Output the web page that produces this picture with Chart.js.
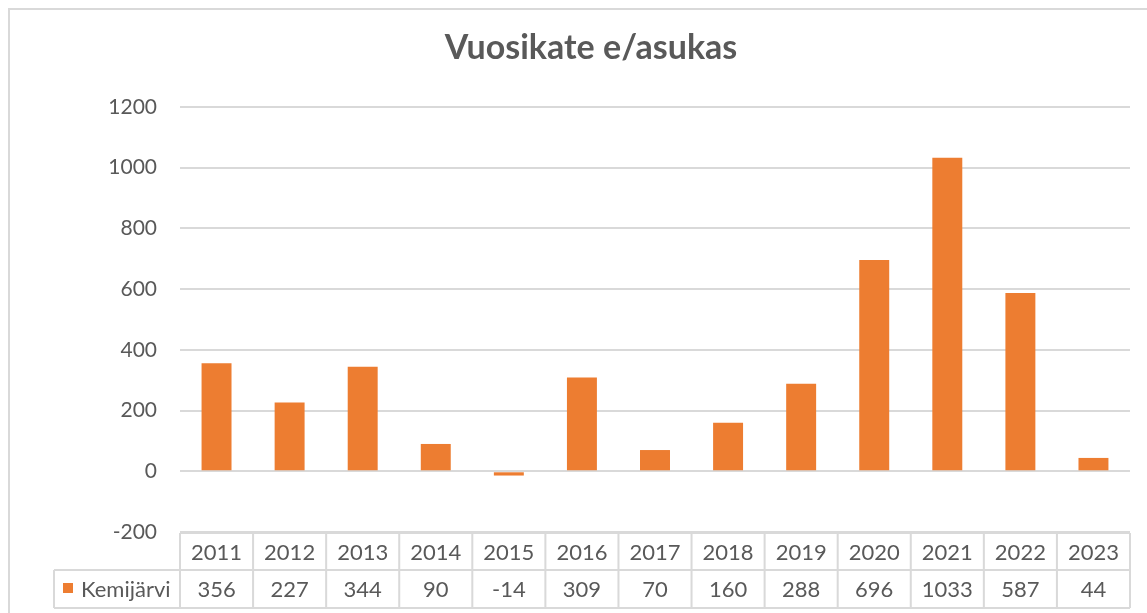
<!DOCTYPE html>
<html>
<head>
<meta charset="utf-8">
<script src="https://cdn.jsdelivr.net/npm/chart.js@4.4.1/dist/chart.umd.min.js"></script>
<style>
  html, body { margin: 0; padding: 0; background: #ffffff; }
  #wrap { width: 1147px; height: 613px; position: relative; }
</style>
</head>
<body>
<div id="wrap"><canvas id="chart" width="1147" height="613"></canvas></div>
<script>
// Vuosikate per asukas, Kemijärvi
const chartTitle = 'Vuosikate e/asukas';
const seriesName = 'Kemijärvi';
const years = ['2011', '2012', '2013', '2014', '2015', '2016', '2017', '2018', '2019', '2020', '2021', '2022', '2023'];
const values = [356, 227, 344, 90, -14, 309, 70, 160, 288, 696, 1033, 587, 44];
const yMin = -200;
const yMax = 1200;
const yStep = 200;

const ORANGE = '#ED7D31';
const GRID = '#D9D9D9';
const TEXT = '#595959';
const FONT = 'Lato, "Open Sans", sans-serif';

// Frame, title and the data table under the plot
const decorations = {
  id: 'decorations',
  beforeDraw(chart) {
    const ctx = chart.ctx;
    ctx.save();
    ctx.strokeStyle = GRID;
    ctx.lineWidth = 2;
    ctx.strokeRect(9, 9, chart.width + 20, chart.height + 20);
    ctx.restore();
  },
  afterDraw(chart) {
    const ctx = chart.ctx;
    const x = chart.scales.x;
    const area = chart.chartArea;
    const n = years.length;
    const colW = (area.right - area.left) / n;
    const rowTop = area.bottom + 1;
    const rowMid = rowTop + 37;
    const rowBot = rowMid + 38;
    const labelLeft = 54;

    ctx.save();
    // Title
    ctx.fillStyle = TEXT;
    ctx.font = 'bold 34px ' + FONT;
    ctx.textAlign = 'center';
    ctx.textBaseline = 'middle';
    ctx.fillText(chartTitle, 591, 48);

    // Table grid
    ctx.strokeStyle = GRID;
    ctx.lineWidth = 2;
    ctx.beginPath();
    ctx.moveTo(area.left, rowTop); ctx.lineTo(area.right, rowTop);
    ctx.moveTo(labelLeft, rowMid); ctx.lineTo(area.right, rowMid);
    ctx.moveTo(labelLeft, rowBot); ctx.lineTo(area.right, rowBot);
    ctx.moveTo(labelLeft, rowMid); ctx.lineTo(labelLeft, rowBot);
    for (let i = 0; i <= n; i++) {
      const bx = area.left + i * colW;
      ctx.moveTo(bx, rowTop); ctx.lineTo(bx, rowBot);
    }
    ctx.stroke();

    // Table text
    ctx.fillStyle = TEXT;
    ctx.font = '22px ' + FONT;
    ctx.textAlign = 'center';
    ctx.textBaseline = 'middle';
    years.forEach((yr, i) => {
      const cx = x.getPixelForValue(i);
      ctx.fillText(yr, cx, (rowTop + rowMid) / 2 + 1);
      ctx.fillText(String(values[i]), cx, (rowMid + rowBot) / 2 + 1);
    });

    // Legend key and series name
    ctx.fillStyle = ORANGE;
    ctx.fillRect(63, 583, 10, 10);
    ctx.fillStyle = TEXT;
    ctx.textAlign = 'left';
    ctx.fillText(seriesName, 81, (rowMid + rowBot) / 2 + 1);
    ctx.restore();
  }
};

new Chart(document.getElementById('chart'), {
  type: 'bar',
  data: {
    labels: years,
    datasets: [{
      label: seriesName,
      data: values,
      backgroundColor: ORANGE,
      borderWidth: 0,
      categoryPercentage: 1,
      barPercentage: 0.41
    }]
  },
  options: {
    responsive: false,
    animation: false,
    layout: { padding: { top: 107, right: 17, bottom: 81, left: 0 } },
    plugins: {
      legend: { display: false },
      title: { display: false },
      tooltip: { enabled: false }
    },
    scales: {
      x: {
        display: false
      },
      y: {
        min: yMin,
        max: yMax,
        afterFit(scale) { scale.width = 180; },
        border: { display: false },
        grid: { color: GRID, lineWidth: 2, drawTicks: false },
        ticks: {
          stepSize: yStep,
          padding: 23,
          color: TEXT,
          font: { family: FONT, size: 21 },
          callback: (v) => String(v)
        }
      }
    }
  },
  plugins: [decorations]
});
</script>
</body>
</html>
